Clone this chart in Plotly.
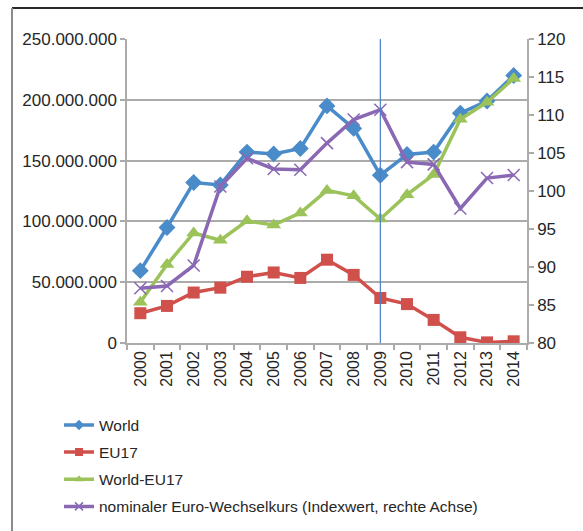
import plotly.graph_objects as go

years = ["2000", "2001", "2002", "2003", "2004", "2005", "2006", "2007",
         "2008", "2009", "2010", "2011", "2012", "2013", "2014"]

world = [59_500_000, 95_000_000, 132_000_000, 130_000_000, 157_000_000,
         155_500_000, 160_000_000, 195_000_000, 176_500_000, 138_000_000,
         155_000_000, 157_000_000, 189_000_000, 199_000_000, 220_000_000]

eu17 = [24_500_000, 30_500_000, 41_500_000, 45_500_000, 54_500_000,
        58_000_000, 53_500_000, 68_500_000, 56_000_000, 37_000_000,
        32_000_000, 19_000_000, 4_700_000, 500_000, 1_400_000]

world_ex_eu17 = [33_500_000, 64_500_000, 90_500_000, 84_500_000, 100_500_000,
                 97_000_000, 107_000_000, 125_500_000, 121_000_000, 102_000_000,
                 122_000_000, 138_500_000, 184_000_000, 198_000_000, 217_500_000]

euro_index = [87.2, 87.5, 90.2, 100.6, 104.3, 102.9, 102.8, 106.3,
              109.4, 110.7, 103.8, 103.5, 97.7, 101.7, 102.1]

names = ["World", "EU17", "World-EU17",
         "nominaler Euro-Wechselkurs (Indexwert, rechte Achse)"]

left_ticks = [0, 50_000_000, 100_000_000, 150_000_000, 200_000_000, 250_000_000]
right_ticks = [80, 85, 90, 95, 100, 105, 110, 115, 120]
marker_year = "2009"

FONT = "Liberation Sans, Arial, sans-serif"
TXT = "#262626"
GRID = "#ABABAB"

styles = [
    dict(color="#4A8BC9", symbol="diamond", size=13, legend_size=8),
    dict(color="#D0504C", symbol="square", size=12, legend_size=8),
    dict(color="#9BC35A", symbol="triangle-up", size=13, legend_size=8),
    dict(color="#8A68B4", symbol="x-thin", size=12, legend_size=8),
]
series = [(world, "y"), (eu17, "y"), (world_ex_eu17, "y"), (euro_index, "y2")]

fig = go.Figure()

for (values, axis), name, st in zip(series, names, styles):
    mk = dict(symbol=st["symbol"], size=st["size"], color=st["color"])
    if st["symbol"] == "x-thin":
        mk["line"] = dict(color=st["color"], width=1.5)
    fig.add_trace(go.Scatter(
        x=years, y=values, name=name, mode="lines+markers", yaxis=axis,
        showlegend=False, line=dict(color=st["color"], width=3.5), marker=mk))

# legend entries with smaller symbols
for name, st in zip(names, styles):
    mk = dict(symbol=st["symbol"], size=st["legend_size"], color=st["color"])
    if st["symbol"] == "x-thin":
        mk["line"] = dict(color=st["color"], width=1.5)
    fig.add_trace(go.Scatter(
        x=[None], y=[None], name=name, mode="lines+markers", legendgroup=name,
        line=dict(color=st["color"], width=3.5), marker=mk))

# 2009 reference line
idx = years.index(marker_year)
fig.add_shape(type="line", xref="x", yref="paper",
              x0=idx, x1=idx, y0=0, y1=1,
              line=dict(color="#4A7FC9", width=1.2))

# outer frame (top and left edges)
fig.add_shape(type="line", xref="paper", yref="paper",
              x0=-0.2875, x1=1.2, y0=1.102, y1=1.102,
              line=dict(color="#2A2A2A", width=2))
fig.add_shape(type="line", xref="paper", yref="paper",
              x0=-0.2875, x1=-0.2875, y0=1.102, y1=-0.7,
              line=dict(color="#8C8C8C", width=2))

fig.update_layout(
    width=583, height=531,
    margin=dict(l=127, r=56, t=39, b=188, autoexpand=False),
    paper_bgcolor="white", plot_bgcolor="white",
    separators=",.",
    font=dict(family=FONT, color=TXT, size=16),
    showlegend=True,
    legend=dict(x=-0.17, xanchor="left", y=-0.215, yanchor="top",
                font=dict(family=FONT, size=15.5, color=TXT),
                tracegroupgap=4, bgcolor="rgba(0,0,0,0)",
                traceorder="grouped"),
    xaxis=dict(
        type="category", range=[-0.5, len(years) - 0.5],
        tickangle=-90, tickson="boundaries", automargin=False,
        ticks="outside", ticklen=5, tickcolor=GRID, tickwidth=1.5,
        showline=True, linecolor=GRID, linewidth=1.5,
        showgrid=False, tickfont=dict(size=16, color=TXT)),
    yaxis=dict(
        range=[0, 250_000_000], tickvals=left_ticks, tickformat=",d",
        automargin=False,
        ticks="outside", ticklen=5, tickcolor=GRID, tickwidth=1.5,
        showline=True, linecolor=GRID, linewidth=1.5,
        showgrid=True, gridcolor=GRID, gridwidth=1.5, zeroline=False,
        tickfont=dict(size=17, color=TXT)),
    yaxis2=dict(
        overlaying="y", side="right", range=[80, 120], tickvals=right_ticks,
        automargin=False,
        ticks="outside", ticklen=5, tickcolor=GRID, tickwidth=1.5,
        showline=True, linecolor=GRID, linewidth=1.5,
        showgrid=False, zeroline=False,
        tickfont=dict(size=17, color=TXT)),
)

fig.write_html("out.html")
